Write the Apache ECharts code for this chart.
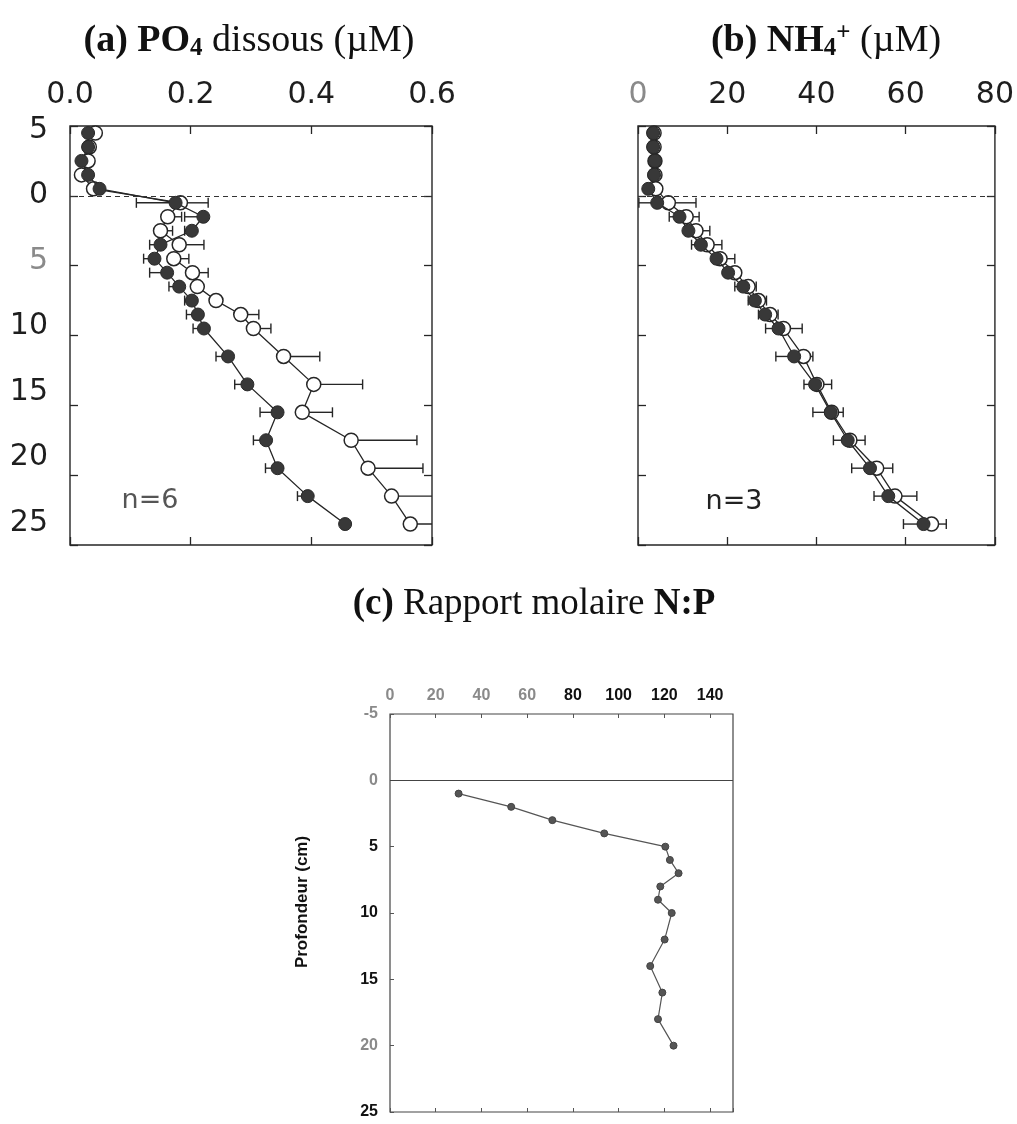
<!DOCTYPE html>
<html><head><meta charset="utf-8">
<script src="https://cdn.jsdelivr.net/npm/echarts@6/dist/echarts.min.js"></script>
<style>html,body{margin:0;padding:0;background:#fff}#c{width:1017px;height:1124px}</style>
</head><body><div id="c"></div>
<script>
// ---------- DATA ----------
const depthsAB = [-4.5,-3.5,-2.5,-1.5,-0.5,0.5,1.5,2.5,3.5,4.5,5.5,6.5,7.5,8.5,9.5,11.5,13.5,15.5,17.5,19.5,21.5,23.5];
// (a) PO4 dissous (µM)
const po4Filled    = [0.030,0.030,0.019,0.030,0.049,0.175,0.221,0.202,0.150,0.140,0.161,0.181,0.202,0.212,0.222,0.262,0.294,0.344,0.325,0.344,0.394,0.456];
const po4FilledLow = [null,null,null,null,null,0.110,0.190,0.190,0.132,0.122,0.132,0.164,0.190,0.193,0.204,0.242,0.273,0.315,0.304,0.324,0.377,null];
const po4Open      = [0.042,0.032,0.030,0.019,0.039,0.183,0.162,0.150,0.181,0.172,0.203,0.211,0.242,0.283,0.304,0.354,0.404,0.385,0.466,0.494,0.533,0.564];
const po4OpenHigh  = [null,null,null,null,null,0.229,0.185,0.170,0.222,0.197,0.229,null,null,0.313,0.333,0.414,0.485,0.435,0.575,0.585,0.620,0.620];
// (b) NH4+ (µM)
const nh4Filled    = [3.4,3.4,3.8,3.6,2.3,4.3,9.3,11.3,14.1,17.6,20.2,23.6,26.2,28.5,31.5,35.0,39.7,43.2,47.0,52.0,56.1,64.0];
const nh4FilledLow = [null,null,null,null,null,0.2,7.0,null,12.0,null,null,21.7,24.7,27.0,28.6,30.9,37.2,39.2,43.8,47.9,52.9,59.5];
const nh4Open      = [3.6,3.6,3.8,3.8,4.0,6.8,10.8,13.0,15.5,18.4,21.7,24.7,27.0,29.6,32.6,37.1,40.1,43.4,47.5,53.5,57.6,65.8];
const nh4OpenHigh  = [null,null,null,null,null,13.0,13.7,16.1,18.8,21.7,22.9,26.5,28.8,31.4,36.8,39.2,43.4,46.0,50.9,57.1,62.5,69.1];
// (c) Rapport molaire N:P
const depthsC = [1,2,3,4,5,6,7,8,9,10,12,14,16,18,20];
const ratioNP = [30.0,53.0,71.0,93.7,120.4,122.4,126.2,118.2,117.2,123.2,120.1,113.8,119.1,117.2,124.0];
// tick labels
const depthTicks = [-5,0,5,10,15,20,25];
const grayDepthLabelsA = [5];
const grayDepthLabelsC = [-5,0,20];
const grayXLabelsB = [0];
const grayXLabelsC = [0,20,40,60];

// ---------- HELPERS ----------
const INK = '#262626';
const pairs = (xs, ys) => xs.map((x, i) => [x, ys[i]]);
const errData = (ends, vals, ys) => ends.map((e, i) => e == null ? null : [e, vals[i], ys[i]]).filter(Boolean);
function errRender(params, api) {
  const d = api.value(2);
  const e = api.coord([api.value(0), d]);
  const v = api.coord([api.value(1), d]);
  const st = {stroke: INK, lineWidth: 1.4};
  return {type: 'group', children: [
    {type: 'line', shape: {x1: e[0], y1: e[1], x2: v[0], y2: v[1]}, style: st},
    {type: 'line', shape: {x1: e[0], y1: e[1] - 5, x2: e[0], y2: e[1] + 5}, style: st}
  ]};
}
const tickStyle = {color: INK, width: 1.3};
const sansFont = 'DejaVu Sans';
const LBL = 30;
function topX(grid, min, max, interval, fmt, grayList) {
  return {gridIndex: grid, type: 'value', position: 'top', min, max, interval,
    axisLine: {show: false, onZero: false}, splitLine: {show: false},
    axisTick: {inside: true, length: 8, lineStyle: tickStyle},
    axisLabel: {margin: 16, fontFamily: sansFont, fontSize: LBL, color: '#1e1e1e',
      formatter: v => (grayList.includes(v) ? '{g|' : '{k|') + fmt(v) + '}',
      rich: {g: {color: '#8a8a8a', fontFamily: sansFont, fontSize: LBL}, k: {color: '#1e1e1e', fontFamily: sansFont, fontSize: LBL}}}};
}
function botX(grid, min, max, interval) {
  return {gridIndex: grid, type: 'value', position: 'bottom', min, max, interval,
    axisLine: {show: false, onZero: false}, splitLine: {show: false},
    axisTick: {inside: true, length: 8, lineStyle: tickStyle}, axisLabel: {show: false}};
}
function sideY(grid, pos) {
  return {gridIndex: grid, type: 'value', position: pos, inverse: true, min: -5, max: 25, interval: 5,
    axisLine: {show: false, onZero: false}, splitLine: {show: false},
    axisTick: {inside: true, length: 8, lineStyle: tickStyle}, axisLabel: {show: false}};
}
const zeroLine = (type, color) => ({silent: true, symbol: 'none', label: {show: false},
  lineStyle: {type, color, width: 1.2}, data: [{yAxis: 0}]});

const chart = echarts.init(document.getElementById('c'), null, {renderer: 'canvas'});
chart.setOption({
  animation: false,
  backgroundColor: '#fff',
  grid: [
    {left: 70, top: 126, width: 362, height: 419, show: true, borderColor: INK, borderWidth: 1.4, backgroundColor: 'transparent'},
    {left: 638, top: 126, width: 357, height: 419, show: true, borderColor: INK, borderWidth: 1.4, backgroundColor: 'transparent'},
    {left: 390, top: 714, width: 343, height: 398, show: true, borderColor: '#444', borderWidth: 1.2, backgroundColor: 'transparent'}
  ],
  xAxis: [
    topX(0, 0, 0.6, 0.2, v => v.toFixed(1), []),
    botX(0, 0, 0.6, 0.2),
    topX(1, 0, 80, 20, v => String(v), grayXLabelsB),
    botX(1, 0, 80, 20),
    {gridIndex: 2, type: 'value', position: 'top', min: 0, max: 150, interval: 20,
      axisLine: {show: false, onZero: false}, splitLine: {show: false},
      axisTick: {inside: true, length: 4, lineStyle: {color: '#555', width: 1}},
      axisLabel: {margin: 10, showMaxLabel: false, fontFamily: 'Liberation Sans', fontWeight: 'bold', fontSize: 16,
        formatter: v => v > 140 ? '' : (grayXLabelsC.includes(v) ? '{g|' : '{k|') + v + '}',
        rich: {g: {color: '#8a8a8a', fontWeight: 'bold', fontFamily: 'Liberation Sans', fontSize: 16},
               k: {color: '#111', fontWeight: 'bold', fontFamily: 'Liberation Sans', fontSize: 16}}}},
    {gridIndex: 2, type: 'value', position: 'bottom', min: 0, max: 150, interval: 20,
      axisLine: {show: false, onZero: false}, splitLine: {show: false},
      axisTick: {inside: true, length: 4, lineStyle: {color: '#555', width: 1}}, axisLabel: {show: false}}
  ],
  yAxis: [
    sideY(0, 'left'),
    sideY(0, 'right'),
    {gridIndex: 0, type: 'value', position: 'left', inverse: true, min: -5.3, max: 26.7,
      axisLine: {show: false, onZero: false}, axisTick: {show: false}, splitLine: {show: false},
      axisLabel: {customValues: depthTicks, margin: 22, fontFamily: sansFont, fontSize: LBL,
        formatter: v => (grayDepthLabelsA.includes(v) && v > 0 ? '{g|' : '{k|') + Math.abs(v) + '}',
        rich: {g: {color: '#8a8a8a', fontFamily: sansFont, fontSize: LBL}, k: {color: '#1e1e1e', fontFamily: sansFont, fontSize: LBL}}}},
    sideY(1, 'left'),
    sideY(1, 'right'),
    {gridIndex: 2, type: 'value', position: 'left', inverse: true, min: -5, max: 25, interval: 5,
      axisLine: {show: false, onZero: false}, splitLine: {show: false},
      axisTick: {inside: true, length: 4, lineStyle: {color: '#555', width: 1}},
      axisLabel: {margin: 12, fontFamily: 'Liberation Sans', fontWeight: 'bold', fontSize: 16,
        formatter: v => (grayDepthLabelsC.includes(v) ? '{g|' : '{k|') + v + '}',
        rich: {g: {color: '#8a8a8a', fontWeight: 'bold', fontFamily: 'Liberation Sans', fontSize: 16},
               k: {color: '#111', fontWeight: 'bold', fontFamily: 'Liberation Sans', fontSize: 16}}}}
  ],
  series: [
    // ----- (a) -----
    {type: 'custom', xAxisIndex: 0, yAxisIndex: 0, clip: true, z: 1, renderItem: errRender,
      data: errData(po4FilledLow, po4Filled, depthsAB), markLine: zeroLine([5, 4], '#333')},
    {type: 'custom', xAxisIndex: 0, yAxisIndex: 0, clip: true, z: 1, renderItem: errRender,
      data: errData(po4OpenHigh, po4Open, depthsAB)},
    {type: 'line', xAxisIndex: 0, yAxisIndex: 0, z: 2, data: pairs(po4Open, depthsAB), showAllSymbol: true,
      symbol: 'circle', symbolSize: 14, lineStyle: {color: INK, width: 1.3},
      itemStyle: {color: '#fff', borderColor: INK, borderWidth: 1.5}},
    {type: 'line', xAxisIndex: 0, yAxisIndex: 0, z: 3, data: pairs(po4Filled, depthsAB), showAllSymbol: true,
      symbol: 'circle', symbolSize: 13, lineStyle: {color: INK, width: 1.3},
      itemStyle: {color: '#383838', borderColor: '#2a2a2a', borderWidth: 1}},
    // ----- (b) -----
    {type: 'custom', xAxisIndex: 2, yAxisIndex: 3, clip: true, z: 1, renderItem: errRender,
      data: errData(nh4FilledLow, nh4Filled, depthsAB), markLine: zeroLine([5, 4], '#333')},
    {type: 'custom', xAxisIndex: 2, yAxisIndex: 3, clip: true, z: 1, renderItem: errRender,
      data: errData(nh4OpenHigh, nh4Open, depthsAB)},
    {type: 'line', xAxisIndex: 2, yAxisIndex: 3, z: 2, data: pairs(nh4Open, depthsAB), showAllSymbol: true,
      symbol: 'circle', symbolSize: 14, lineStyle: {color: INK, width: 1.3},
      itemStyle: {color: '#fff', borderColor: INK, borderWidth: 1.5}},
    {type: 'line', xAxisIndex: 2, yAxisIndex: 3, z: 3, data: pairs(nh4Filled, depthsAB), showAllSymbol: true,
      symbol: 'circle', symbolSize: 13, lineStyle: {color: INK, width: 1.3},
      itemStyle: {color: '#383838', borderColor: '#2a2a2a', borderWidth: 1}},
    // ----- (c) -----
    {type: 'line', xAxisIndex: 4, yAxisIndex: 5, z: 3, data: pairs(ratioNP, depthsC), showAllSymbol: true,
      symbol: 'circle', symbolSize: 7, lineStyle: {color: '#555', width: 1.2},
      itemStyle: {color: '#555', borderColor: '#444', borderWidth: 1},
      markLine: zeroLine('solid', '#444')}
  ],
  graphic: [
    {type: 'text', x: 249, y: 41, style: {
      text: '{b|(a) PO}{sub|4}{r| dissous (µM)}', align: 'center', verticalAlign: 'middle',
      rich: {b: {fontFamily: 'Liberation Serif', fontWeight: 'bold', fontSize: 38, lineHeight: 40, fill: '#111'},
             sub: {fontFamily: 'Liberation Serif', fontWeight: 'bold', fontSize: 25, lineHeight: 10, verticalAlign: 'bottom', fill: '#111'},
             r: {fontFamily: 'Liberation Serif', fontSize: 38, lineHeight: 40, fill: '#111'}}}},
    {type: 'text', x: 826, y: 41, style: {
      text: '{b|(b) NH}{sub|4}{sup|+}{r| (µM)}', align: 'center', verticalAlign: 'middle',
      rich: {b: {fontFamily: 'Liberation Serif', fontWeight: 'bold', fontSize: 38, lineHeight: 40, fill: '#111'},
             sub: {fontFamily: 'Liberation Serif', fontWeight: 'bold', fontSize: 25, lineHeight: 10, verticalAlign: 'bottom', fill: '#111'},
             sup: {fontFamily: 'Liberation Serif', fontWeight: 'bold', fontSize: 25, lineHeight: 22, verticalAlign: 'top', fill: '#111'},
             r: {fontFamily: 'Liberation Serif', fontSize: 38, lineHeight: 40, fill: '#111'}}}},
    {type: 'text', x: 534, y: 604, style: {
      text: '{b|(c)}{r| Rapport molaire }{b|N:P}', align: 'center', verticalAlign: 'middle',
      rich: {b: {fontFamily: 'Liberation Serif', fontWeight: 'bold', fontSize: 37, fill: '#111'},
             r: {fontFamily: 'Liberation Serif', fontSize: 37, fill: '#111'}}}},
    {type: 'text', x: 150, y: 501, style: {text: 'n=6', align: 'center', verticalAlign: 'middle',
      fontFamily: sansFont, fontSize: 27, fill: '#555'}},
    {type: 'text', x: 734, y: 502, style: {text: 'n=3', align: 'center', verticalAlign: 'middle',
      fontFamily: sansFont, fontSize: 27, fill: '#222'}},
    {type: 'text', x: 302, y: 902, rotation: Math.PI / 2, style: {text: 'Profondeur (cm)', align: 'center', verticalAlign: 'middle',
      fontFamily: 'Liberation Sans', fontWeight: 'bold', fontSize: 17, fill: '#111'}}
  ]
});
</script>
</body></html>
